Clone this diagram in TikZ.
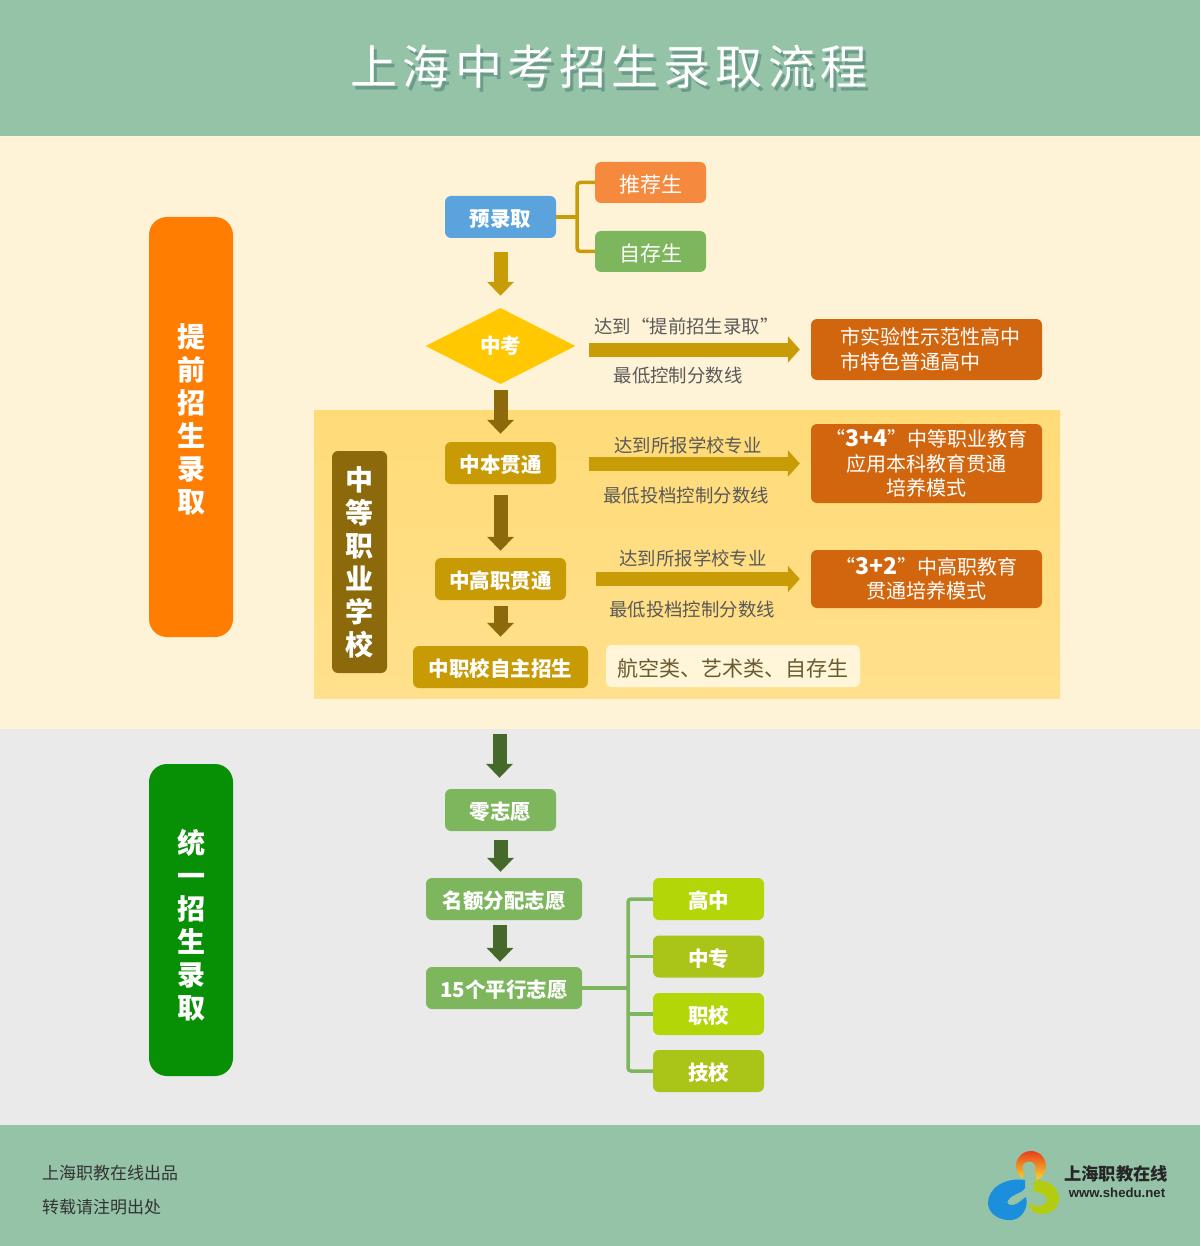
\documentclass[tikz,border=0pt]{standalone}
\usepackage{fontspec}
\usetikzlibrary{arrows.meta,shapes.geometric,calc}
\setmainfont{Noto Sans CJK SC}
\newfontfamily\latinb[Scale=1]{Liberation Sans}
\definecolor{bandgreen}{HTML}{95C3A8}
\definecolor{titleshadow}{HTML}{6B9C8A}
\definecolor{creamband}{HTML}{FFF3D7}
\definecolor{greyband}{HTML}{EAEAEA}
\definecolor{sideorange}{HTML}{FF7D00}
\definecolor{sidegreen}{HTML}{078F05}
\definecolor{goldarrow}{HTML}{C89C06}
\definecolor{brown}{HTML}{8C6A0B}
\definecolor{darkgreen}{HTML}{44692B}
\definecolor{lightgreen}{HTML}{7DB65C}
\definecolor{result}{HTML}{D1660F}
\definecolor{goldbox}{HTML}{C89B05}
\definecolor{lime}{HTML}{B2D608}
\definecolor{olive}{HTML}{AAC518}
\definecolor{labelgrey}{HTML}{595959}
\definecolor{panelA}{HTML}{FFDB78}
\definecolor{panelB}{HTML}{FFE08C}
\definecolor{HTMLblue}{HTML}{5BA3DC}
\definecolor{HTMLorange}{HTML}{F58A3F}
\definecolor{HTMLyellow}{HTML}{FFC800}
\definecolor{HTMLcream}{HTML}{FFF5D8}
\definecolor{HTMLtext}{HTML}{6A5A30}
\definecolor{HTMLred}{HTML}{E8401C}
\definecolor{HTMLyel}{HTML}{F8DC30}
\definecolor{HTMLlogob}{HTML}{1B8FDC}
\definecolor{HTMLlogog}{HTML}{B4CC10}
\newcommand{\fsz}[2]{\fontsize{#1}{#2}\selectfont}
\newcommand{\bignum}[1]{{\fsz{23}{24.5}\bfseries #1}}
\tikzset{
 rbox/.style={rounded corners=6pt,inner sep=0pt,align=center,text=white,font=\fsz{20}{24.5}},
 onebox/.style={rbox,font=\fsz{21}{25},text height=22.5pt,text depth=2.5pt},
 boldbox/.style={rbox,font=\fsz{20.5}{25}\bfseries,text height=21.5pt,text depth=2.5pt},
 sidebox/.style={rounded corners=18pt,inner sep=0pt,minimum width=84pt},
 sidetext/.style={inner sep=0pt,align=center,text=white,font=\fsz{28}{33}\bfseries},
 lbl/.style={inner sep=0pt,text=labelgrey,font=\fsz{18.4}{23}},
 foot/.style={inner sep=0pt,anchor=west,text=black!80,font=\fsz{17}{20}},
 blockv/.style={line width=14pt,-{Triangle[length=14pt,width=26pt]}},
 blockh/.style={line width=14pt,color=goldarrow,-{Triangle[length=12pt,width=26pt]}},
 cn/.style={line width=3.5pt,rounded corners=3pt},
}
\begin{document}
\begin{tikzpicture}[x=1pt,y=-1pt]
\useasboundingbox (0,0) rectangle (1200,1246);
% bands
\fill[bandgreen] (0,0) rectangle (1200,136);
\fill[creamband] (0,136) rectangle (1200,729);
\fill[greyband] (0,729) rectangle (1200,1125);
\fill[bandgreen] (0,1125) rectangle (1200,1246);
% title
\node[inner sep=0pt,text=titleshadow,font=\fsz{47}{50}\addfontfeature{LetterSpace=11}] at (612,70.5) {上海中考招生录取流程};
\node[inner sep=0pt,text=white,font=\fsz{47}{50}\addfontfeature{LetterSpace=11}] at (609,67) {上海中考招生录取流程};
% side labels
\node[sidebox,fill=sideorange,minimum height=420pt] at (191,427) {};
\node[sidetext] at (191,419.5) {提\\前\\招\\生\\录\\取};
\node[sidebox,fill=sidegreen,minimum height=312pt] at (191,920) {};
\node[sidetext] at (191,925.5) {统\\一\\招\\生\\录\\取};
% vocational panel
\shade[top color=panelA,bottom color=panelB] (314,410) rectangle (1060,698);
\node[rbox,fill=brown,minimum width=55pt,minimum height=222pt,font=\fsz{28}{33}\bfseries] at (359.5,562) {中\\等\\职\\业\\学\\校};
% upper flow
\node[boldbox,fill=HTMLblue,minimum width=111pt,minimum height=42pt] (yu) at (500.5,217) {预录取};
\node[onebox,fill=HTMLorange,minimum width=111pt,minimum height=41pt] (tui) at (650.5,182.5) {推荐生};
\node[onebox,fill=lightgreen,minimum width=111pt,minimum height=41pt] (zi) at (650.5,251.5) {自存生};
\node[diamond,aspect=1.97,inner sep=0pt,minimum width=150pt,minimum height=76pt,fill=HTMLyellow,text=white,font=\fsz{20.5}{25}\bfseries] (zk) at (500.5,346) {中考};
\node[rbox,align=left,fill=result,minimum width=231pt,minimum height=61pt] (r1) at (926.5,349.5) {\hspace*{7pt}市实验性示范性高中\\\hspace*{7pt}市特色普通高中};
\node[boldbox,fill=goldbox,minimum width=111pt,minimum height=42pt] (zb) at (500.5,463) {中本贯通};
\node[rbox,fill=result,minimum width=231pt,minimum height=79pt] (r2) at (926.5,463.5) {“\bignum{3+4}”中等职业教育\\应用本科教育贯通\\培养模式};
\node[boldbox,fill=goldbox,minimum width=131pt,minimum height=42pt] (zg) at (500.5,579) {中高职贯通};
\node[rbox,fill=result,minimum width=231pt,minimum height=58pt] (r3) at (926.5,579) {“\bignum{3+2}”中高职教育\\贯通培养模式};
\node[boldbox,fill=goldbox,minimum width=175pt,minimum height=42pt] (zz) at (500.5,667) {中职校自主招生};
\node[onebox,fill=HTMLcream,text=HTMLtext,minimum width=254pt,minimum height=42pt] (hk) at (733,666) {航空类、艺术类、自存生};
\draw[cn,goldarrow] (yu.east) -- ++(21,0) coordinate (jy);
\draw[cn,goldarrow] (tui.west) -| (jy) |- (zi.west);
\draw[blockv,goldarrow,shorten <=14pt,shorten >=12pt] (yu) -- (zk);
\draw[blockv,brown,shorten <=6pt,shorten >=8pt] (zk) -- (zb);
\draw[blockv,brown,shorten <=11pt,shorten >=7pt] (zb) -- (zg);
\draw[blockv,brown,shorten <=6pt,shorten >=9pt] (zg) -- (zz);
\draw[blockh,shorten <=13pt,shorten >=11pt] (zk.east |- r1.west) -- (r1.west);
\draw[blockh,shorten <=33pt,shorten >=11pt] (zb.east |- r2.west) -- (r2.west);
\draw[blockh,shorten <=30pt,shorten >=11pt] (zg.east |- r3.west) -- (r3.west);
\node[lbl] at (686.5,326) {达到“提前招生录取”};
\node[lbl] at (678,376) {最低控制分数线};
\node[lbl] at (688,445) {达到所报学校专业};
\node[lbl] at (686,496) {最低投档控制分数线};
\node[lbl] at (693,558) {达到所报学校专业};
\node[lbl] at (692,610) {最低投档控制分数线};
% lower flow
\coordinate (st) at (499.5,734);
\node[boldbox,fill=lightgreen,minimum width=111pt,minimum height=42pt] (ling) at (500.5,810) {零志愿};
\node[boldbox,fill=lightgreen,minimum width=156pt,minimum height=42pt] (ming) at (504,899) {名额分配志愿};
\node[boldbox,fill=lightgreen,minimum width=156pt,minimum height=42pt] (pin) at (504,988) {15个平行志愿};
\node[boldbox,fill=lime,minimum width=111pt,minimum height=42pt] (gz) at (708.5,899) {高中};
\node[boldbox,fill=olive,minimum width=111pt,minimum height=42pt] (zzh) at (708.5,956.5) {中专};
\node[boldbox,fill=lime,minimum width=111pt,minimum height=42pt] (zx) at (708.5,1014) {职校};
\node[boldbox,fill=olive,minimum width=111pt,minimum height=42pt] (jx) at (708.5,1071) {技校};
\draw[blockv,darkgreen,shorten >=11pt] (st) -- (st |- ling.north);
\draw[blockv,darkgreen,shorten <=9pt,shorten >=6pt] (ling.south) -- (ling.south |- ming.north);
\draw[blockv,darkgreen,shorten <=5pt,shorten >=5pt] ($(ming.south)+(-4,0)$) -- ($(pin.north)+(-4,0)$);
\coordinate (jp) at (628,988);
\draw[cn,lightgreen] (pin.east) -- (jp);
\draw[cn,lightgreen] (gz.west) -| (jp) |- (jx.west);
\draw[cn,lightgreen] (zzh.west) -- (zzh.west -| jp);
\draw[cn,lightgreen] (zx.west) -- (zx.west -| jp);
% footer
\node[foot] at (42,1173) {上海职教在线出品};
\node[foot] at (42,1207) {转载请注明出处};
% logo
\shade[top color=HTMLred,bottom color=HTMLyel] (1031,1166) circle[radius=15];
\fill[bandgreen] (1029,1168) circle[radius=6.5];
\fill[bandgreen] (1024,1172) -- (1035,1172) -- (1037,1182) -- (1022,1182) -- cycle;
\fill[HTMLlogob] (1025,1180) .. controls (1005,1177) and (988,1188) .. (988,1203) .. controls (988,1214) and (1000,1221) .. (1012,1220) .. controls (1022,1219) and (1029,1207) .. (1026,1197) .. controls (1022,1199) and (1019,1204) .. (1013,1205) .. controls (1008,1206) and (1005,1202) .. (1010,1198) .. controls (1014,1194) and (1024,1192) .. (1025,1188) -- cycle;
\fill[HTMLlogog] (1034,1181) .. controls (1050,1178) and (1059,1190) .. (1059,1198) .. controls (1059,1209) and (1050,1214) .. (1041,1214) .. controls (1034,1214) and (1029,1209) .. (1029,1203) .. controls (1032,1206) and (1040,1208) .. (1045,1204) .. controls (1050,1199) and (1045,1193) .. (1033,1191) -- cycle;
\node[inner sep=0pt,text=black!85,font=\fsz{17.3}{21}\bfseries] at (1116,1174) {上海职教在线};
\node[inner sep=0pt,text=black!85,font=\latinb\fsz{13.2}{15}\bfseries] at (1117,1192.5) {www.shedu.net};
\end{tikzpicture}
\end{document}
